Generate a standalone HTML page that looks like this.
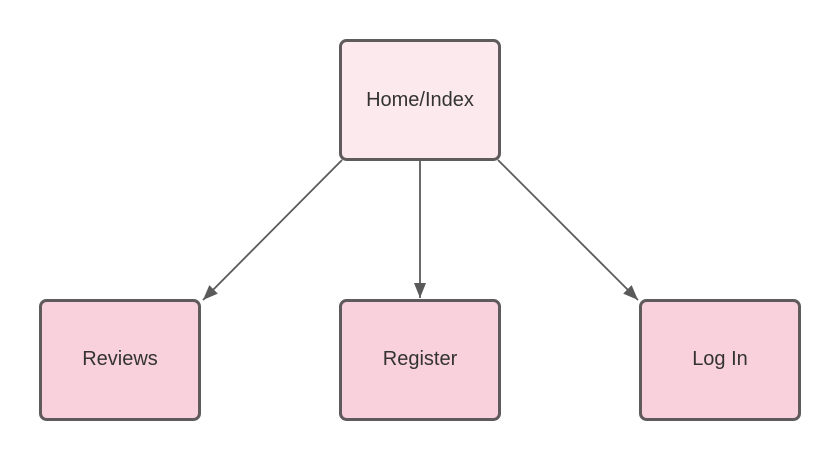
<!DOCTYPE html>
<html><head><style>body{margin:0;background:#fff}</style></head><body>
<svg width="840" height="460" xmlns="http://www.w3.org/2000/svg" font-family="Liberation Sans, sans-serif">
<defs><marker id="a" markerWidth="16" markerHeight="14" refX="15" refY="7" orient="auto" markerUnits="userSpaceOnUse"><path d="M0,1 L15,7 L0,13 z" fill="#5a5a5a"/></marker></defs>
<rect width="840" height="460" fill="#fff"/>
<g stroke="#5a5a5a" fill="none" stroke-width="1.8">
<line x1="342" y1="160" x2="203" y2="300" marker-end="url(#a)"/>
<line x1="420" y1="160" x2="420" y2="298" marker-end="url(#a)"/>
<line x1="498" y1="160" x2="638" y2="300" marker-end="url(#a)"/>
</g>
<g stroke="#5f5a5c" stroke-width="3">
<rect x="340.5" y="40.5" width="159" height="119" rx="6" fill="#fce9ee"/>
<rect x="40.5" y="300.5" width="159" height="119" rx="6" fill="#f9d1dc"/>
<rect x="340.5" y="300.5" width="159" height="119" rx="6" fill="#f9d1dc"/>
<rect x="640.5" y="300.5" width="159" height="119" rx="6" fill="#f9d1dc"/>
</g>
<g font-size="20" fill="#333" text-anchor="middle">
<text x="420" y="106">Home/Index</text>
<text x="120" y="365">Reviews</text>
<text x="420" y="365">Register</text>
<text x="720" y="365">Log In</text>
</g>
</svg>
</body></html>
